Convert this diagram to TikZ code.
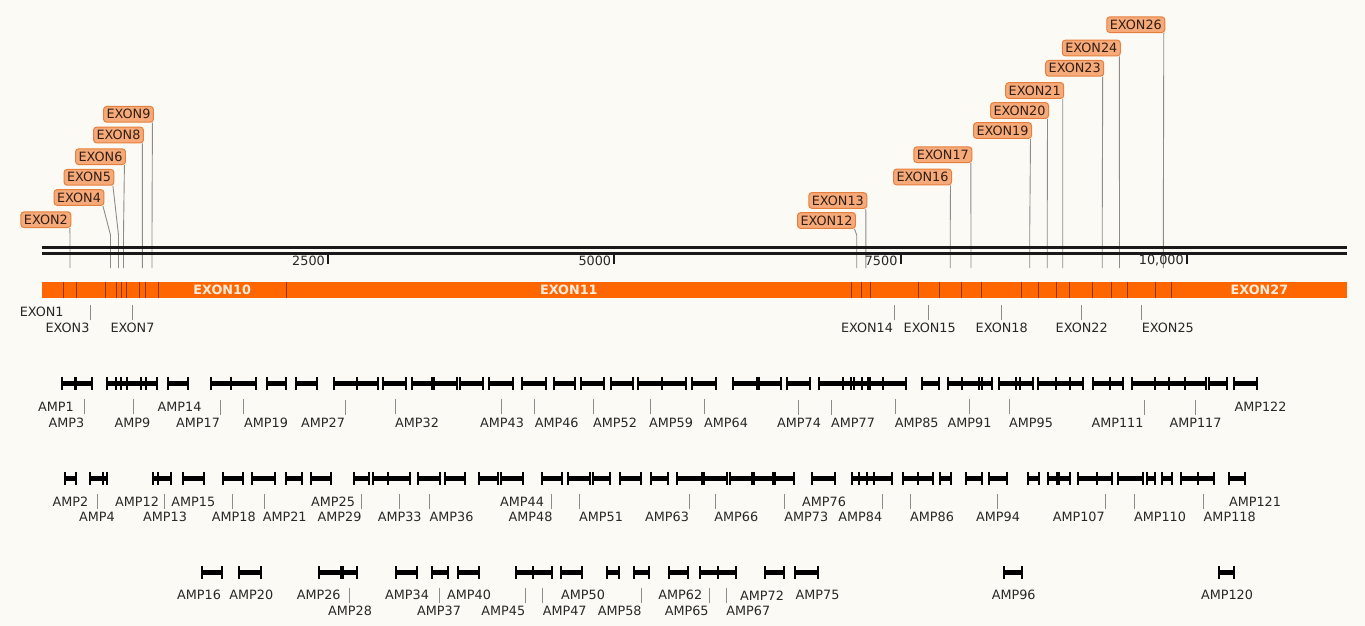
\documentclass[tikz,border=0pt]{standalone}
\usepackage{fontspec}
\setmainfont{DejaVu Sans}
\usepackage{tikz}
\usetikzlibrary{positioning}
\definecolor{paper}{RGB}{252,250,244}
\definecolor{exorange}{RGB}{255,102,0}
\definecolor{exdivide}{RGB}{140,55,10}
\definecolor{exfill}{RGB}{246,170,122}
\definecolor{exdraw}{RGB}{228,128,62}
\definecolor{extext}{RGB}{50,30,20}
\definecolor{exwhite}{RGB}{255,236,222}
\definecolor{linkgray}{RGB}{140,140,140}
\definecolor{labtext}{RGB}{40,40,40}
\newcommand{\labsize}{\fontsize{12.8}{14}\selectfont}
\tikzstyle{exbox}=[rectangle, draw=exdraw, fill=exfill, line width=1pt,
    rounded corners=3pt, inner sep=3pt, text=extext, font=\labsize]
\tikzstyle{exlab}=[inner sep=0pt, text=labtext, font=\labsize]
\tikzstyle{exin}=[inner sep=0pt, text=exwhite, font=\labsize\bfseries]
\tikzstyle{amplab}=[inner sep=0pt, text=labtext, font=\labsize]
\tikzstyle{exlink}=[draw=linkgray, line width=0.9pt]
\tikzstyle{labtick}=[draw=linkgray, line width=0.9pt]
\tikzstyle{rule}=[draw=black!90, line width=2.6pt]
\tikzstyle{rtick}=[draw=black!90, line width=2pt]
\tikzstyle{exdiv}=[draw=exdivide, line width=0.8pt]
\tikzstyle{ampbar}=[line width=4.6pt]
\tikzstyle{ampend}=[line width=2.4pt]

\begin{document}
\begin{tikzpicture}[x=1pt,y=-1pt]
  \path[fill=paper, use as bounding box] (0,0) rectangle (1365,626);

  % exon centres on the map
  \foreach \n/\cx in {1/52.5,2/70,3/90.8,4/110.5,5/118.5,6/123.5,7/132.5,8/142.3,
      9/152,10/222.2,11/568.8,12/856.7,13/865.8,14/894.2,15/928.8,16/950.2,
      17/971,18/1001,19/1029.7,20/1047.2,21/1062.7,22/1081,23/1102.2,24/1119.5,
      25/1141.2,26/1163.3,27/1259.4}
    \coordinate (x\n) at (\cx,268);

  % boxed exon labels
  \node[exbox] (e2)  at (45.9,219.7)   {EXON2};
  \node[exbox] (e4)  at (79,197.5)     {EXON4};
  \node[exbox] (e5)  at (89,177.3)     {EXON5};
  \node[exbox] (e6)  at (100.5,156.7)  {EXON6};
  \node[exbox] (e8)  at (118.5,135)    {EXON8};
  \node[exbox] (e9)  at (128.5,114.3)  {EXON9};
  \node[exbox] (e12) at (826.5,220.5)  {EXON12};
  \node[exbox] (e13) at (837.8,200.5)  {EXON13};
  \node[exbox] (e16) at (922.5,177)    {EXON16};
  \node[exbox] (e17) at (942.8,154.7)  {EXON17};
  \node[exbox] (e19) at (1002.5,130.5) {EXON19};
  \node[exbox] (e20) at (1019.5,110.5) {EXON20};
  \node[exbox] (e21) at (1034.7,90.5)  {EXON21};
  \node[exbox] (e23) at (1074.7,68.3)  {EXON23};
  \node[exbox] (e24) at (1091.3,48)    {EXON24};
  \node[exbox] (e26) at (1135.8,24.7)  {EXON26};
  \foreach \n in {2,4,5,6,8,9,12,13,16,17,19,20,21,23,24,26}
    \draw[exlink] ([xshift=-1.5pt]e\n.south east) -- (x\n |- 0,235) -- (x\n);

  % ruler
  \coordinate (rs) at (41.7,250.3);
  \coordinate (re) at (1347,250.3);
  \draw[rule] ([yshift=3pt]rs) -- ([yshift=3pt]re);
  \draw[rule] ([yshift=-3pt]rs) -- ([yshift=-3pt]re);
  \foreach \v/\t in {1/2500,2/5000,3/7500,4/{10,000}} {
    \coordinate (t\v) at (41.7+286.3*\v,253);
    \draw[rtick] (t\v) -- ++(0,11);
    \node[amplab, anchor=east] (tl\v) at ([xshift=-3pt]t\v |- 0,260.5) {\t};
  }

  % exon map
  \fill[exorange] (41.7,281.7) rectangle (1347,298.3);
  \foreach \b in {63.3,76.7,105,116,121,126,139,145.7,158.3,286,851.7,861.7,870,
      918.3,939.3,961,981,1021,1038.3,1056,1069.3,1092.7,1111.7,1127.3,1155,1171.7}
    \draw[exdiv] (\b,281.7) -- (\b,298.3);
  \node[exin] (i10) at (x10 |- 0,290) {EXON10};
  \node[exin] (i11) at (x11 |- 0,290) {EXON11};
  \node[exin] (i27) at (x27 |- 0,290) {EXON27};

  \node[exlab] (b1) at (41.7,311.7) {EXON1};
  \foreach \n/\lx in {3/67.5,7/132.5,14/867,15/929.7,18/1001.7,22/1081.7,25/1167.8} {
    \node[exlab] (b\n) at (\lx,328.3) {EXON\n};
    \draw[labtick] ([yshift=3pt]b\n.north -| x\n) -- ++(0,-15);
  }

  % amplicons, row 1
  \foreach \a/\b in {62/75,76/92,107/121,116/127,127/146,141/157,168/188,211/231,
      231/256,267/286,296/317,334/357,357/378,383/406,412/432,434/457,460/483,
      489/513,522/546,554/575,581/604,611/633,638/662,662/686,692/716,733/757,
      759/781,787/810,819/851,843/862,854/870,868/883,883/906,922/939,948/979,
      962/982,979/992,999/1020,1016/1033,1038/1070,1056/1083,1093/1110,1110/1123,
      1132/1169,1155/1185,1169/1206,1209/1227,1234/1257} {
    \draw[ampbar] (\a,383.3) -- (\b,383.3);
    \draw[ampend] (\a,376.8) -- (\a,389.8) (\b,376.8) -- (\b,389.8);
  }
  \foreach \t/\lx in {AMP1/56,AMP14/179.5,AMP122/1260.5}
    \node[amplab] (\t) at (\lx,406.5) {\t};
  \foreach \t/\lx/\tx in {AMP3/66.5/84,AMP9/132.5/133,AMP17/198/220,AMP19/266/243,
      AMP27/323/345,AMP32/417/395.7,AMP43/502/501.7,AMP46/556.7/534.3,
      AMP52/615/593.3,AMP59/671/650,AMP64/726/704,AMP74/799/798.3,
      AMP77/853/831.7,AMP85/916.7/895,AMP91/969.5/969,AMP95/1031/1009.3,
      AMP111/1117.5/1144,AMP117/1195.5/1195} {
    \node[amplab] (\t) at (\lx,422.5) {\t};
    \draw[labtick] ([yshift=3pt]\t.north -| \tx,0) -- ++(0,-15);
  }

  % amplicons, row 2
  \foreach \a/\b in {65/76,90/103,103/107,153/158,158/171,183/204,223/243,252/275,
      286/302,311/331,354/369,373/388,388/410,418/440,445/465,479/498,501/523,
      542/562,568/590,593/610,620/641,651/668,677/702,704/727,730/752,754/773,
      775/794,812/835,852/867,859/874,874/892,903/918,918/933,940/951,966/982,
      989/1007,1028/1039,1048/1057,1059/1070,1078/1097,1097/1112,1118/1143,
      1147/1155,1162/1172,1181/1198,1198/1214,1229/1245} {
    \draw[ampbar] (\a,478.5) -- (\b,478.5);
    \draw[ampend] (\a,472) -- (\a,485) (\b,472) -- (\b,485);
  }
  \foreach \t/\lx in {AMP2/70.5,AMP12/137,AMP15/193.3,AMP25/333,AMP44/522,
      AMP76/824,AMP121/1255}
    \node[amplab] (\t) at (\lx,501.5) {\t};
  \foreach \t/\lx/\tx in {AMP4/97/97.3,AMP13/165/164,AMP18/233.8/232.7,
      AMP21/284.7/264,AMP29/339.5/361.7,AMP33/399.7/399,AMP36/451.5/429.3,
      AMP48/530.5/551.7,AMP51/601/579.3,AMP63/667/689.3,AMP66/736.3/715,
      AMP73/806.3/784.3,AMP84/860.3/882.3,AMP86/932/910,AMP94/998/997.7,
      AMP107/1078.8/1105,AMP110/1160/1134.3,AMP118/1229.7/1203.3} {
    \node[amplab] (\t) at (\lx,517) {\t};
    \draw[labtick] ([yshift=3pt]\t.north -| \tx,0) -- ++(0,-15);
  }

  % amplicons, row 3
  \foreach \a/\b in {202/222,239/261,319/341,343/357,396/417,432/448,458/479,
      516/533,533/552,561/582,607/619,634/649,669/688,700/718,718/736,765/784,
      795/818,1004/1022,1219/1234} {
    \draw[ampbar] (\a,572.7) -- (\b,572.7);
    \draw[ampend] (\a,566.2) -- (\a,579.2) (\b,566.2) -- (\b,579.2);
  }
  \foreach \t/\lx in {AMP16/199,AMP20/251.3,AMP26/318.7,AMP34/407,AMP40/469,
      AMP50/583,AMP62/680.3,AMP72/762,AMP75/817.5,AMP96/1013.7,AMP120/1227}
    \node[amplab] (\t) at (\lx,595.3) {\t};
  \foreach \t/\lx/\tx in {AMP28/350/349.3,AMP37/439/439.3,AMP45/503.3/525,
      AMP47/564.7/542.7,AMP58/619.7/641.7,AMP65/686.7/709,AMP67/748.3/726.7} {
    \node[amplab] (\t) at (\lx,611) {\t};
    \draw[labtick] ([yshift=3pt]\t.north -| \tx,0) -- ++(0,-15);
  }
\end{tikzpicture}
\end{document}
